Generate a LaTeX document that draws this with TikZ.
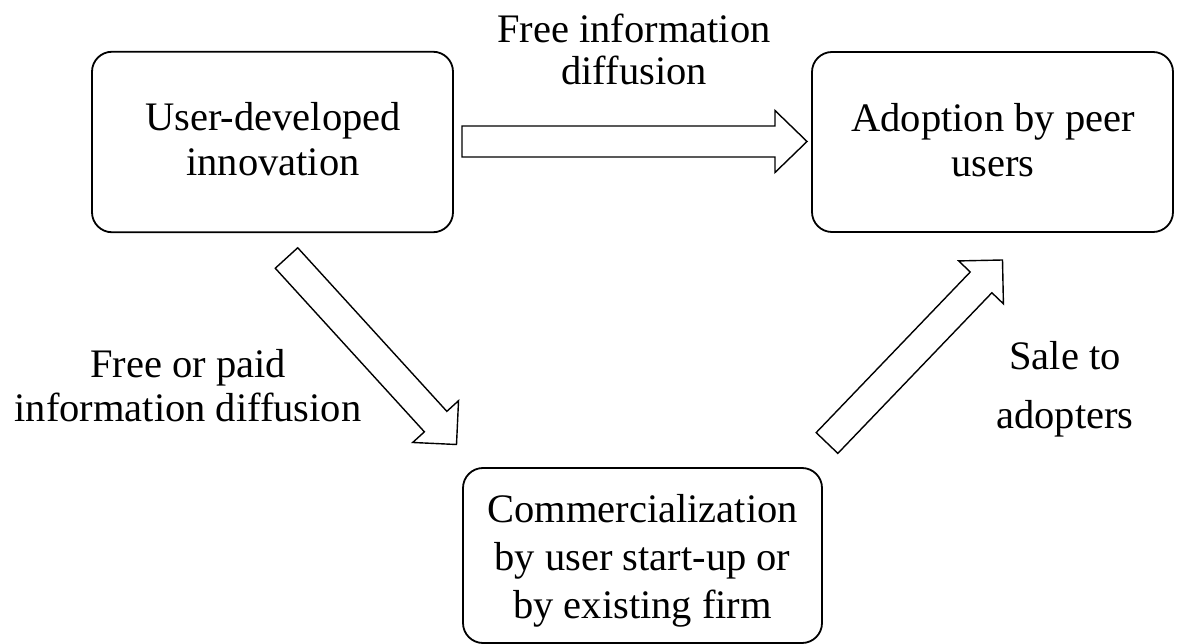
\documentclass[tikz,border=0pt]{standalone}
\usepackage{fontspec}
\setmainfont{Liberation Serif}
\usetikzlibrary{calc}

% hollow block arrow: #1 tail, #2 tip, #3 half shaft width, #4 half head width, #5 head length
\newcommand{\blockarrow}[5]{%
  \coordinate (#2-hb) at ($(#2)!#5!(#1)$);
  \draw[arrowline]
    ($(#1)!#3!90:(#2)$) -- ($(#2-hb)!#3!-90:(#1)$) -- ($(#2-hb)!#4!-90:(#1)$)
    -- (#2)
    -- ($(#2-hb)!#4!90:(#1)$) -- ($(#2-hb)!#3!90:(#1)$) -- ($(#1)!#3!-90:(#2)$) -- cycle;}

\begin{document}
\begin{tikzpicture}[x=1pt,y=-1pt,
  box/.style={draw, rounded corners=20pt, line width=1.8pt, inner sep=0pt},
  arrowline/.style={draw, line width=1.4pt, line join=miter, fill=white},
  txt/.style={align=center, inner sep=0pt},
  sp45/.style={font=\fontsize{40.5}{45}\selectfont},
  sp42/.style={font=\fontsize{40.5}{42}\selectfont},
  sp44/.style={font=\fontsize{40.5}{44}\selectfont},
  sp48/.style={font=\fontsize{40.5}{48}\selectfont},
  sp59/.style={font=\fontsize{40.5}{59}\selectfont}]
\useasboundingbox[fill=white] (0,0) rectangle (1180,644);

% the three stages
\node[box, minimum width=361pt, minimum height=180.5pt] (user) at (272.5,142) {};
\node[box, minimum width=361pt, minimum height=180pt] (adopt) at (992.5,142) {};
\node[box, minimum width=359pt, minimum height=175pt] (comm) at (642.5,555.5) {};

\node[txt, sp45] (usertxt) at (273,139) {User-developed\\innovation};
\node[txt, sp45] (adopttxt) at (993,140) {Adoption by peer\\users};
\node[txt, sp48] (commtxt) at (642.5,561) {Commercialization\\by user start-up or\\by existing firm};

% arrow end points
\coordinate (a1s) at (462,141.5);
\coordinate (a1e) at (807,141.5);
\coordinate (a2s) at (286.5,258);
\coordinate (a2e) at (456.5,444.5);
\coordinate (a3s) at (827,443);
\coordinate (a3e) at (1002.5,260);

\blockarrow{a1s}{a1e}{15.5pt}{31pt}{32pt}
\blockarrow{a2s}{a2e}{15.2pt}{31pt}{31pt}
\blockarrow{a3s}{a3e}{15pt}{31pt}{31pt}

% arrow labels
\node[txt, sp42] (l1) at (634,49.5) {Free information\\diffusion};
\node[txt, sp44] (l2) at (188,386) {Free or paid\\information diffusion};
\node[txt, sp59] (l3) at (1065,389.5) {Sale to\\adopters};
\end{tikzpicture}
\end{document}
